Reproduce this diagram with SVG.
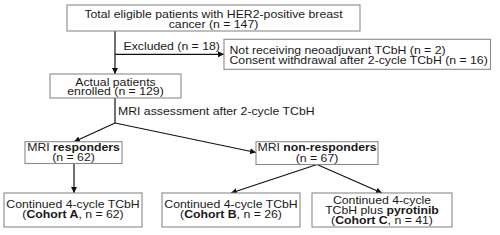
<svg xmlns="http://www.w3.org/2000/svg" width="500" height="235" viewBox="0 0 500 235">
<style>
.box{fill:#fff;stroke:#8a8a8a;stroke-width:1.1}
.t{font-family:"Liberation Sans",Arial,sans-serif;font-size:10.4px;fill:#1a1a1a}
.c{text-anchor:middle}
.b{font-weight:bold}
.ln{fill:none;stroke:#111;stroke-width:1.2}
</style>
<defs>
<marker id="ar" markerUnits="userSpaceOnUse" markerWidth="7" markerHeight="6" refX="6" refY="3" orient="auto">
<path d="M0,0 L6,3 L0,6 Z" fill="#111"/>
</marker>
</defs>
<rect width="500" height="235" fill="#fff"/>
<g id="connectors">
<line class="ln" x1="115" y1="31" x2="115" y2="74" marker-end="url(#ar)"/>
<line class="ln" x1="115" y1="54.3" x2="224" y2="54.3" marker-end="url(#ar)"/>
<line class="ln" x1="115" y1="98" x2="115" y2="123"/>
<line class="ln" x1="115" y1="123" x2="74" y2="141.7" marker-end="url(#ar)"/>
<line class="ln" x1="115" y1="123" x2="256" y2="152.5" marker-end="url(#ar)"/>
<line class="ln" x1="74" y1="163.5" x2="74" y2="193" marker-end="url(#ar)"/>
<line class="ln" x1="317" y1="164.5" x2="231" y2="193" marker-end="url(#ar)"/>
<line class="ln" x1="317" y1="164.5" x2="382" y2="193" marker-end="url(#ar)"/>
<text class="t" transform="translate(123.5,50) scale(1.18,1)">Excluded (n = 18)</text>
<text class="t" transform="translate(118,114.5) scale(1.18,1)">MRI assessment after 2-cycle TCbH</text>
</g>
<g id="total">
<rect class="box" x="67" y="5" width="293" height="26"/>
<text class="t c" transform="translate(213.5,18.3) scale(1.18,1)">Total eligible patients with HER2-positive breast</text>
<text class="t c" transform="translate(213.5,28) scale(1.18,1)">cancer (n = 147)</text>
</g>
<g id="excluded">
<rect class="box" x="224" y="39.3" width="266.5" height="30"/>
<text class="t" transform="translate(229.5,53.8) scale(1.18,1)">Not receiving neoadjuvant TCbH (n = 2)</text>
<text class="t" transform="translate(229.5,64.3) scale(1.18,1)">Consent withdrawal after 2-cycle TCbH (n = 16)</text>
</g>
<g id="enrolled">
<rect class="box" x="50" y="74" width="131" height="24"/>
<text class="t c" transform="translate(115.5,85.5) scale(1.18,1)">Actual patients</text>
<text class="t c" transform="translate(115.5,95.3) scale(1.18,1)">enrolled (n = 129)</text>
</g>
<g id="responders">
<rect class="box" x="25" y="141.7" width="97" height="21.8"/>
<text class="t c" transform="translate(73.5,151.3) scale(1.18,1)">MRI <tspan class="b">responders</tspan></text>
<text class="t c" transform="translate(73.5,161.2) scale(1.18,1)">(n = 62)</text>
</g>
<g id="nonresponders">
<rect class="box" x="256" y="141.7" width="122" height="22.8"/>
<text class="t c" transform="translate(317,151.3) scale(1.18,1)">MRI <tspan class="b">non-responders</tspan></text>
<text class="t c" transform="translate(317,161.5) scale(1.18,1)">(n = 67)</text>
</g>
<g id="cohortA">
<rect class="box" x="4" y="193" width="138" height="34"/>
<text class="t c" transform="translate(73,208) scale(1.18,1)">Continued 4-cycle TCbH</text>
<text class="t c" transform="translate(73,218.3) scale(1.18,1)">(<tspan class="b">Cohort A</tspan>, n = 62)</text>
</g>
<g id="cohortB">
<rect class="box" x="162" y="193" width="138" height="34"/>
<text class="t c" transform="translate(231,208) scale(1.18,1)">Continued 4-cycle TCbH</text>
<text class="t c" transform="translate(231,218.3) scale(1.18,1)">(<tspan class="b">Cohort B</tspan>, n = 26)</text>
</g>
<g id="cohortC">
<rect class="box" x="312" y="193" width="140" height="34"/>
<text class="t c" transform="translate(382,204.3) scale(1.18,1)">Continued 4-cycle</text>
<text class="t c" transform="translate(382,214.3) scale(1.18,1)">TCbH plus <tspan class="b">pyrotinib</tspan></text>
<text class="t c" transform="translate(382,224.3) scale(1.18,1)">(<tspan class="b">Cohort C</tspan>, n = 41)</text>
</g>
</svg>
